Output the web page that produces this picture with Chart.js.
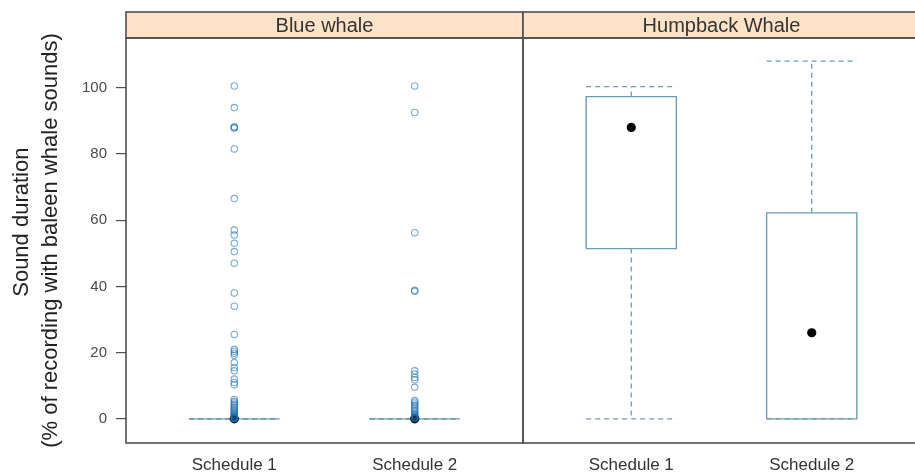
<!DOCTYPE html>
<html>
<head>
<meta charset="utf-8">
<script src="https://cdn.jsdelivr.net/npm/chart.js@4.4.1/dist/chart.umd.min.js"></script>
<style>
  html, body { margin: 0; padding: 0; background: #ffffff; overflow: hidden; }
  canvas { display: block; }
</style>
</head>
<body>
<canvas id="chart" width="930" height="472"></canvas>
<script>
// Panels (species) and groups (recording schedules)
const panels = ['Blue whale', 'Humpback Whale'];
const schedules = ['Schedule 1', 'Schedule 2'];
const yTicks = [0, 20, 40, 60, 80, 100];

// Box-and-whisker summaries, one value per schedule [Schedule 1, Schedule 2]
const blueLowerWhisker = [0, 0];
const blueLowerHinge = [0, 0];
const blueMedian = [0, 0];
const blueUpperHinge = [0, 0];
const blueUpperWhisker = [0, 0];

const humpbackLowerWhisker = [0, 0];
const humpbackLowerHinge = [51.4, 0];
const humpbackMedian = [88, 26];
const humpbackUpperHinge = [97.3, 62.2];
const humpbackUpperWhisker = [100.3, 108];

// Blue whale recordings lying outside the whiskers
const blueOutliersSchedule1 = [
  100.5, 94, 88.2, 88, 87.8, 81.5, 66.5, 57, 55.5, 53, 50.5, 47, 38, 34,
  25.5, 21, 20.4, 19.8, 19.2, 17, 15.5, 14.5, 12, 11, 10.3,
  5.8, 5.2, 4.8, 4.3, 3.9, 3.4, 3, 2.6, 2.2, 1.8, 1.5, 1.2, 1, 0.8,
  0.6, 0.4, 0.3, 0.2, 0.1, 0.1, 0.05
];
const blueOutliersSchedule2 = [
  100.5, 92.5, 56.2, 38.8, 38.5, 14.5, 13.5, 12.5, 11.8, 9.5,
  5.5, 5, 4.5, 4, 3.5, 3, 2.5, 2, 1.5, 1.2, 0.9, 0.6, 0.4, 0.2, 0.1
];

const summaries = [
  { lw: blueLowerWhisker, lh: blueLowerHinge, med: blueMedian, uh: blueUpperHinge, uw: blueUpperWhisker,
    outliers: [blueOutliersSchedule1, blueOutliersSchedule2] },
  { lw: humpbackLowerWhisker, lh: humpbackLowerHinge, med: humpbackMedian, uh: humpbackUpperHinge, uw: humpbackUpperWhisker,
    outliers: [[], []] }
];

// Each panel spans 2.2 x-units; groups sit at 1 and 2 inside it
const PANEL_SPAN = 2.2;
const HALF_BOX = 0.25;
const center = (p, s) => p * PANEL_SPAN + s + 1;

const BOX_COLOR = '#6c9db2';
const OUTLIER_COLOR = 'rgba(30, 110, 175, 0.58)';
const FONT = '"Liberation Sans", Arial, sans-serif';

const datasets = [];
summaries.forEach((sm, p) => {
  schedules.forEach((_, s) => {
    const c = center(p, s);
    const lineBase = { type: 'line', showLine: true, pointRadius: 0, fill: false,
      borderColor: BOX_COLOR, tension: 0, order: 3 };
    // box
    datasets.push(Object.assign({}, lineBase, {
      borderWidth: 1.4,
      data: [
        { x: c - HALF_BOX, y: sm.lh[s] }, { x: c - HALF_BOX, y: sm.uh[s] },
        { x: c + HALF_BOX, y: sm.uh[s] }, { x: c + HALF_BOX, y: sm.lh[s] },
        { x: c - HALF_BOX, y: sm.lh[s] }
      ]
    }));
    // whiskers and caps (dashed)
    const dashed = Object.assign({}, lineBase, { borderWidth: 1.3, borderDash: [5, 4], order: 4 });
    datasets.push(Object.assign({}, dashed, { data: [{ x: c, y: sm.uh[s] }, { x: c, y: sm.uw[s] }] }));
    datasets.push(Object.assign({}, dashed, { data: [{ x: c - HALF_BOX, y: sm.uw[s] }, { x: c + HALF_BOX, y: sm.uw[s] }] }));
    datasets.push(Object.assign({}, dashed, { data: [{ x: c, y: sm.lh[s] }, { x: c, y: sm.lw[s] }] }));
    datasets.push(Object.assign({}, dashed, { data: [{ x: c - HALF_BOX, y: sm.lw[s] }, { x: c + HALF_BOX, y: sm.lw[s] }] }));
    // median dot
    datasets.push({
      type: 'scatter', order: 2,
      data: [{ x: c, y: sm.med[s] }],
      pointRadius: 4.6, pointBackgroundColor: '#000000', pointBorderColor: '#000000', pointBorderWidth: 0
    });
    // outliers
    if (sm.outliers[s].length) {
      datasets.push({
        type: 'scatter', order: 1,
        data: sm.outliers[s].map(v => ({ x: c, y: v })),
        pointStyle: 'circle', pointRadius: 3.2,
        pointBackgroundColor: 'rgba(0,0,0,0)', pointBorderColor: OUTLIER_COLOR, pointBorderWidth: 1.1
      });
    }
  });
});

// Lattice-style panel frames with shaded strips carrying the panel names
const panelFrame = {
  id: 'panelFrame',
  afterDraw(chart) {
    const { ctx, chartArea: { top, bottom }, scales: { x } } = chart;
    const stripTop = 12;
    ctx.save();
    panels.forEach((name, p) => {
      const x0 = x.getPixelForValue(p * PANEL_SPAN + 0.4);
      const x1 = x.getPixelForValue(p * PANEL_SPAN + 0.4 + PANEL_SPAN);
      ctx.fillStyle = '#ffe3c8';
      ctx.fillRect(x0, stripTop, x1 - x0, top - stripTop);
      ctx.strokeStyle = '#505050';
      ctx.lineWidth = 1.6;
      ctx.strokeRect(x0, stripTop, x1 - x0, top - stripTop);
      ctx.strokeRect(x0, top, x1 - x0, bottom - top);
      ctx.fillStyle = '#333333';
      ctx.font = '20px ' + FONT;
      ctx.textAlign = 'center';
      ctx.textBaseline = 'middle';
      ctx.fillText(name, (x0 + x1) / 2, (stripTop + top) / 2 + 1);
    });
    ctx.restore();
  }
};

new Chart(document.getElementById('chart'), {
  type: 'scatter',
  data: { datasets },
  options: {
    responsive: false,
    devicePixelRatio: 1,
    animation: false,
    layout: { padding: { top: 38, right: 10, left: 0, bottom: 0 } },
    plugins: { legend: { display: false }, tooltip: { enabled: false } },
    scales: {
      x: {
        type: 'linear',
        min: 0.4,
        max: 0.4 + PANEL_SPAN * panels.length,
        afterBuildTicks: (scale) => {
          scale.ticks = [];
          panels.forEach((_, p) => schedules.forEach((_, s) => scale.ticks.push({ value: center(p, s) })));
        },
        afterFit: (scale) => { scale.height = 29; },
        grid: { display: false },
        border: { display: false },
        ticks: {
          autoSkip: false, maxRotation: 0, padding: 4,
          color: '#333333', font: { family: FONT, size: 17 },
          callback: (value, index) => schedules[index % schedules.length]
        }
      },
      y: {
        type: 'linear',
        min: -7.3,
        max: 115,
        afterBuildTicks: (scale) => { scale.ticks = yTicks.map(v => ({ value: v })); },
        afterFit: (scale) => { scale.width = 126; },
        grid: { display: true, drawOnChartArea: false, drawTicks: true, tickLength: 10, color: '#505050', lineWidth: 1.2 },
        border: { display: false },
        ticks: { padding: 9, color: '#4a4a4a', font: { family: FONT, size: 15 } },
        title: {
          display: true,
          text: ['      Sound duration', '(% of recording with baleen whale sounds)'],
          color: '#222222',
          font: { family: FONT, size: 22, lineHeight: 1.3 },
          padding: { top: 8, bottom: 0 }
        }
      }
    }
  },
  plugins: [panelFrame]
});
</script>
</body>
</html>
